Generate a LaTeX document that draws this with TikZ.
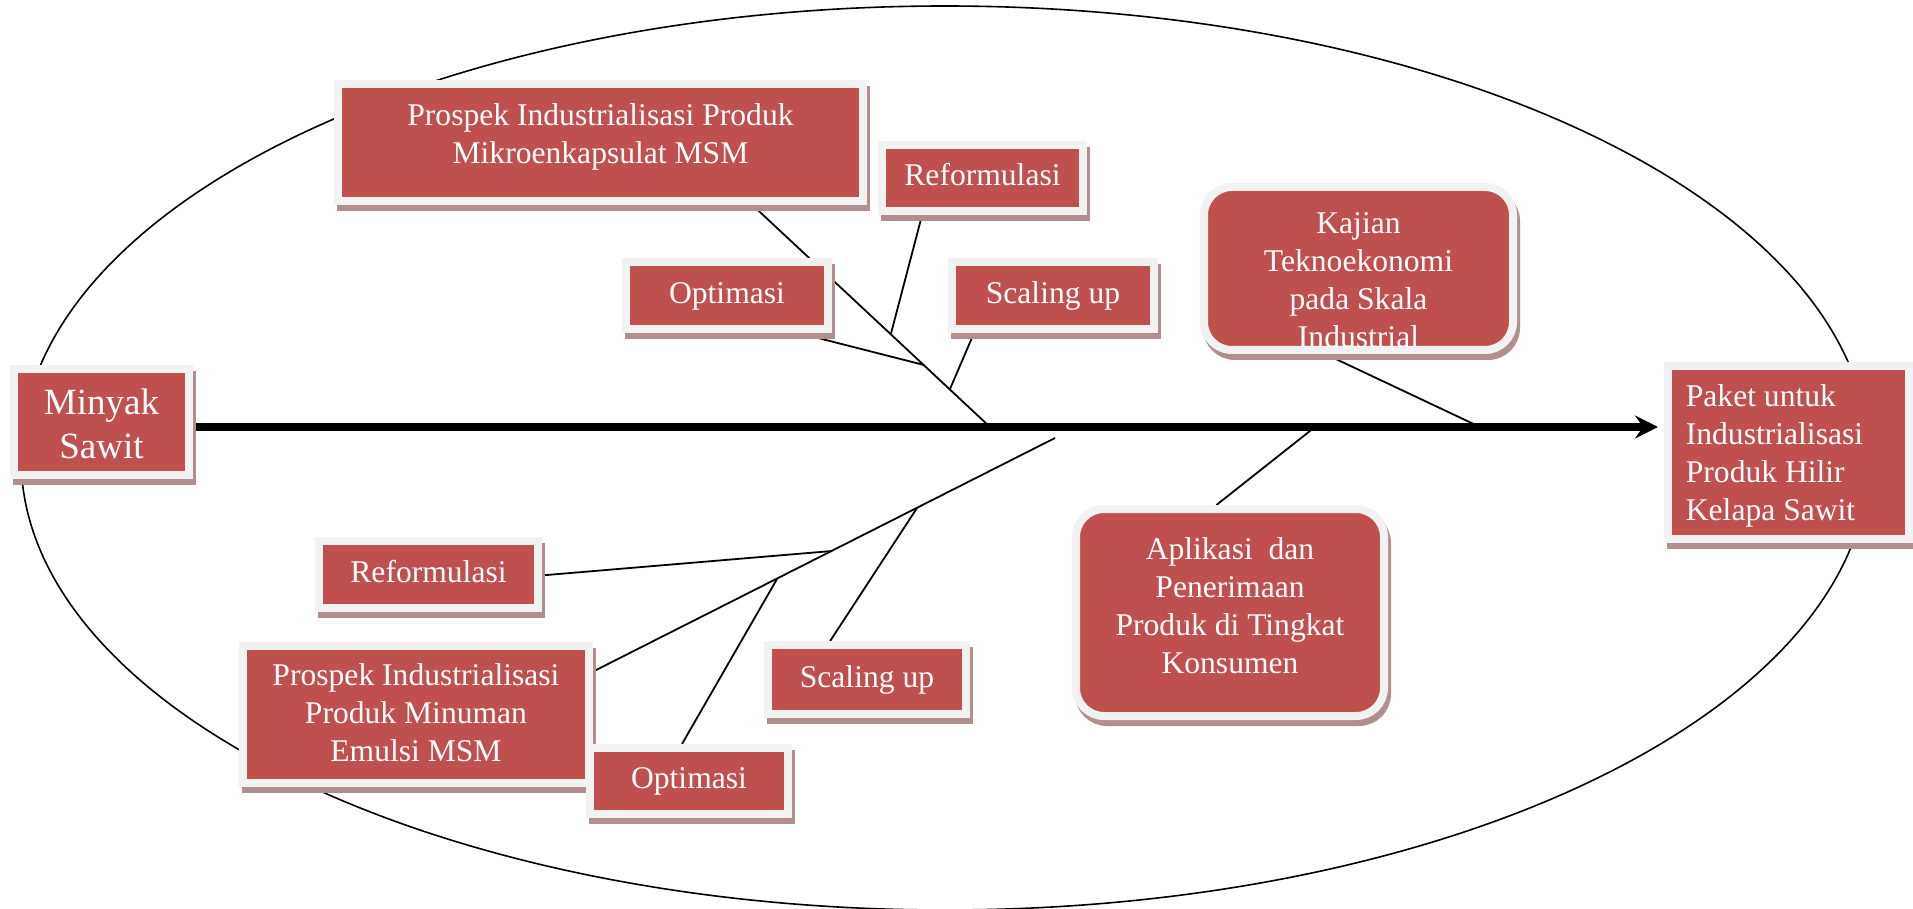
\documentclass[tikz,border=0pt]{standalone}
\usepackage{fontspec}
\setmainfont{Liberation Serif}
\usetikzlibrary{calc,shadows,arrows.meta}
\pgfdeclarelayer{bg}
\pgfsetlayers{bg,main}
\definecolor{boxred}{HTML}{C0504D}
\definecolor{framegray}{HTML}{F2F2F2}
\definecolor{shadowc}{HTML}{B28F8F}
\newcommand\boxtxt[3]{\raisebox{#1}[\height][\depth]{\begin{tabular}{@{}#2@{}}#3\end{tabular}}}
\begin{document}
\begin{tikzpicture}[x=0.5pt,y=-0.5pt,
  box/.style={rectangle, inner sep=0pt, fill=boxred, draw=framegray, line width=4pt, text=white,
    font=\fontsize{15.8}{19}\selectfont,
    drop shadow={shadow xshift=1.5pt, shadow yshift=-3pt, fill=shadowc, draw=shadowc, line width=4pt, opacity=1}},
  rbox/.style={box, rounded corners=14pt},
  bone/.style={line width=0.9pt, black},
  spine/.style={line width=4pt, black, -{Stealth[length=11.5pt,width=11.5pt,inset=4pt]}},
  oval/.style={line width=0.8pt, black}]
\useasboundingbox (0,0) rectangle (1913,909);

% boxes
\node[box, minimum width=87.5pt, minimum height=53pt, font=\fontsize{18.5}{22}\selectfont] (b1) at (101.5,422) {\boxtxt{-3.1pt}{c}{Minyak\\Sawit}};
\node[box, minimum width=262.5pt, minimum height=58.5pt] (b2) at (600.5,142.5) {\boxtxt{3pt}{c}{Prospek Industrialisasi Produk\\Mikroenkapsulat MSM}};
\node[box, minimum width=100.5pt, minimum height=33pt] (b3) at (982.5,178) {\boxtxt{0pt}{c}{Reformulasi}};
\node[box, minimum width=101pt, minimum height=33.5pt] (b4) at (727,295.5) {\boxtxt{0pt}{c}{Optimasi}};
\node[box, minimum width=101pt, minimum height=33.5pt] (b5) at (1053,295.5) {\boxtxt{0pt}{c}{Scaling up}};
\node[rbox, minimum width=154.5pt, minimum height=81.5pt] (b6) at (1358.5,268.5) {\boxtxt{-7.2pt}{c}{Kajian\\Teknoekonomi\\pada Skala\\Industrial}};
\node[box, minimum width=120.5pt, minimum height=86.5pt] (b7) at (1788.5,452.5) {\boxtxt{-1.7pt}{l}{Paket untuk\\Industrialisasi\\Produk Hilir\\Kelapa Sawit}\hspace*{14pt}\mbox{}};
\node[rbox, minimum width=154pt, minimum height=103.5pt] (b8) at (1230,612.5) {\boxtxt{1.8pt}{c}{Aplikasi\ \ dan\\Penerimaan\\Produk di Tingkat\\Konsumen}};
\node[box, minimum width=109.5pt, minimum height=33.5pt] (b9) at (428.5,574.5) {\boxtxt{0pt}{c}{Reformulasi}};
\node[box, minimum width=173pt, minimum height=68.5pt] (b10) at (416,714.5) {\boxtxt{-0.7pt}{c}{Prospek Industrialisasi\\Produk Minuman\\Emulsi MSM}};
\node[box, minimum width=99pt, minimum height=33pt] (b11) at (689,781) {\boxtxt{0pt}{c}{Optimasi}};
\node[box, minimum width=99pt, minimum height=34.5pt] (b12) at (867,679.5) {\boxtxt{0pt}{c}{Scaling up}};

% joints
\coordinate (tip) at (1658,427);
\coordinate (sT) at (990,427);
\coordinate (jR) at (891,333.5);
\coordinate (jO) at (924,365);
\coordinate (jS) at (950,389);
\coordinate (bJ) at (1055,438);
\coordinate (jRb) at (832,551);
\coordinate (jOb) at (777,579);
\coordinate (jSb) at (917,508);
\coordinate (sK) at (1480,427);
\coordinate (sA) at (1315,427);

\begin{pgfonlayer}{bg}
\fill[white] (0,0) rectangle (1913,909);
\draw[oval] (945,458) ellipse [x radius=462pt, y radius=226pt];
% upper bones
\draw[bone] ($(b2.south west)!0.785!(b2.south east)$) -- (sT);
\draw[bone] ($(b3.south west)!0.211!(b3.south east)$) -- (jR);
\draw[bone] ($(b4.south west)!0.84!(b4.south east)$) -- (jO);
\draw[bone] ($(b5.south west)!0.124!(b5.south east)$) -- (jS);
% lower bones
\draw[bone] (bJ) -- ($(b10.north east)!0.204!(b10.south east)$);
\draw[bone] ($(b9.north east)!0.512!(b9.south east)$) -- (jRb);
\draw[bone] ($(b11.north west)!0.466!(b11.north east)$) -- (jOb);
\draw[bone] ($(b12.north west)!0.321!(b12.north east)$) -- (jSb);
% right bones
\draw[bone] ($(b6.south west)!0.395!(b6.south east)$) -- (sK);
\draw[bone] ($(b8.north west)!0.457!(b8.north east)$) -- (sA);
% spine
\draw[spine] (b1.east |- tip) -- (tip);
\end{pgfonlayer}
\end{tikzpicture}
\end{document}
